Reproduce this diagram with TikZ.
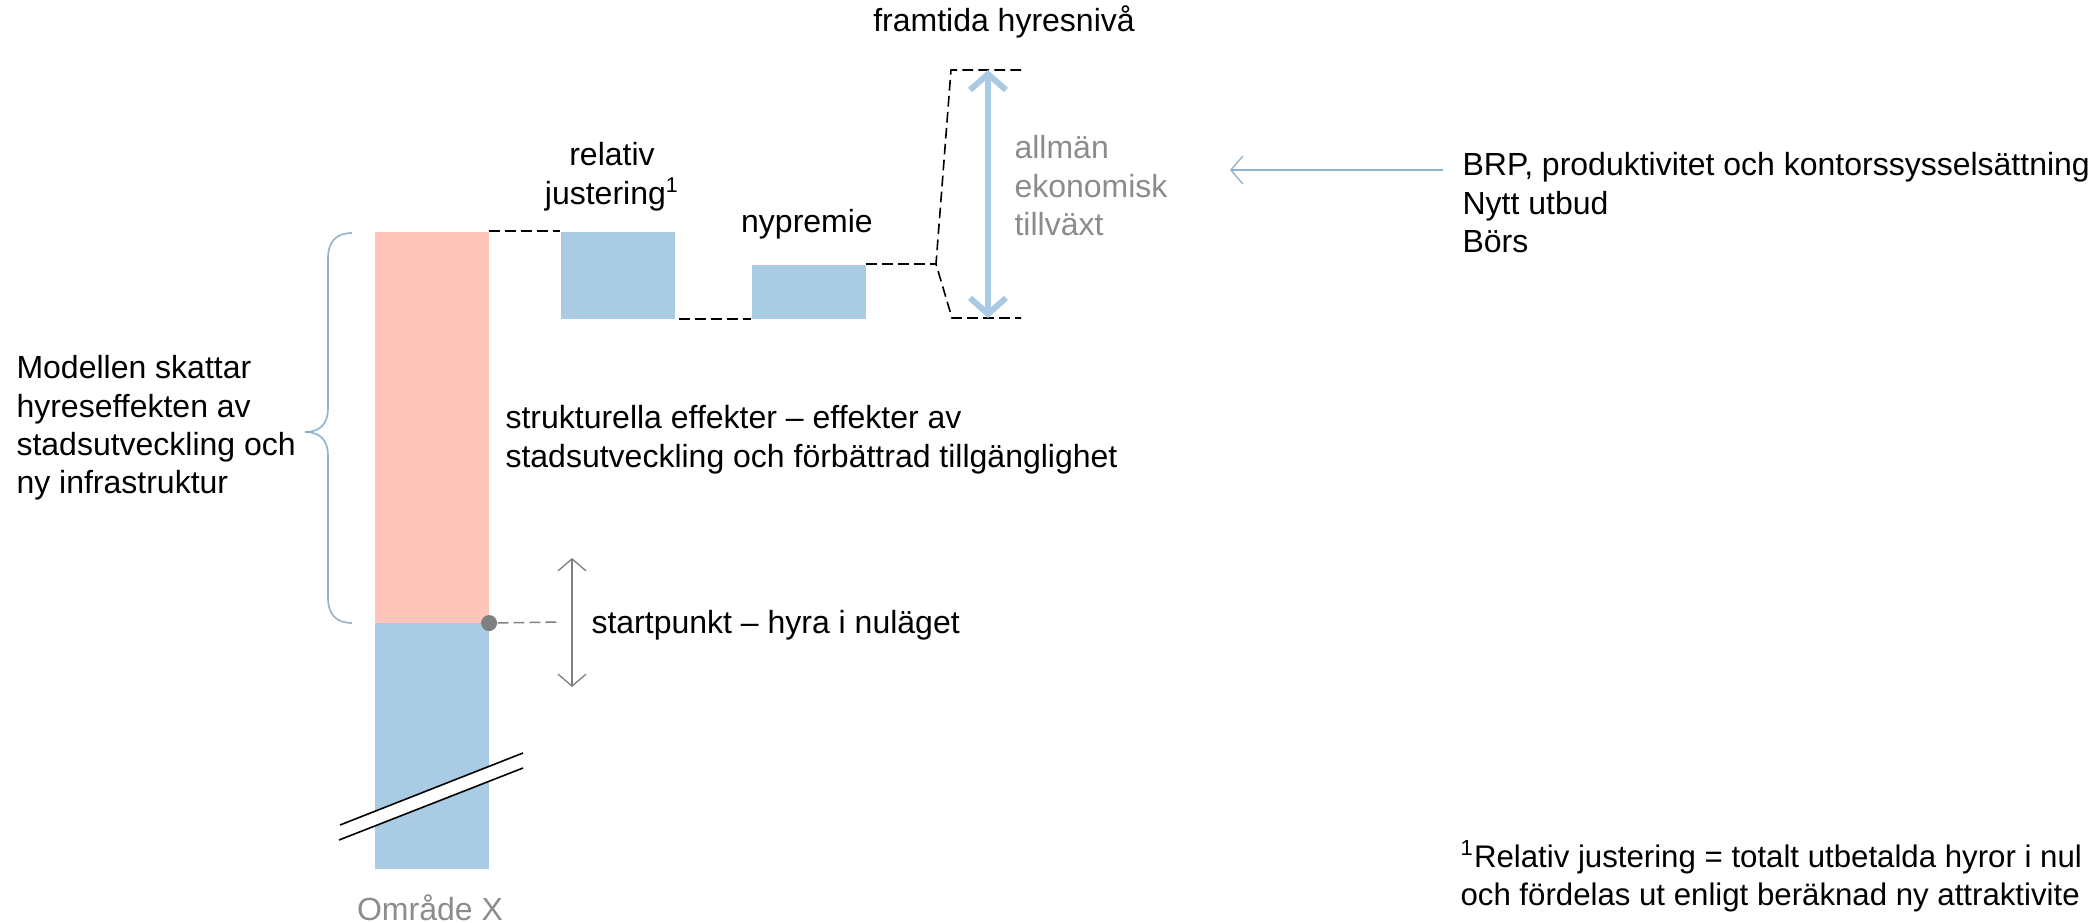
\documentclass[tikz,border=0pt]{standalone}
\usepackage{fontspec}
\setmainfont{Liberation Sans}
\usetikzlibrary{arrows.meta}
\definecolor{rentpink}{HTML}{FFC5BA}
\definecolor{rentblue}{HTML}{A9CCE4}
\definecolor{bracegray}{HTML}{8FB3CC}
\definecolor{softgray}{HTML}{8C8C8C}
\definecolor{midgray}{HTML}{808080}

\begin{document}
\begin{tikzpicture}[x=0.375pt, y=-0.375pt,
	txt/.style={inner sep=0pt, font=\fontsize{12}{14.4}\selectfont},
	bar/.style={inner sep=0pt, minimum width=42.75pt, anchor=north west},
	guide/.style={dash pattern=on 4pt off 2pt, line width=0.6pt},
	startarrow/.style={midgray, line width=0.5pt, {Straight Barb[length=4.5pt, width=10.5pt]}-{Straight Barb[length=4.5pt, width=10.5pt]}},
	growth/.style={rentblue, line width=2.25pt, line cap=round, {Straight Barb[length=6pt, width=13.5pt]}-{Straight Barb[length=6pt, width=13.5pt]}},
	feed/.style={bracegray, line width=0.5pt, -{Straight Barb[length=4.5pt, width=10.5pt]}}]
	\clip (0,0) rectangle (2096,923);

%bars
	\node[bar, fill=rentpink, minimum height=146.625pt] (struct) at (374,231) {};
	\node[bar, fill=rentblue, minimum height=92.25pt] (today) at (374,622) {};
	\node[bar, fill=rentblue, minimum height=32.625pt] (reladj) at (560,231) {};
	\node[bar, fill=rentblue, minimum height=20.25pt] (premium) at (751,264) {};

%axis break
	\fill[white] (340,825) -- (523,753) -- (523,768) -- (339,840) -- cycle;
	\draw[line width=0.6pt] (340,825) -- (523,753);
	\draw[line width=0.6pt] (339,840) -- (523,768);

%start point
	\node[circle, fill=midgray, inner sep=0pt, minimum size=6pt] (start) at (struct.south east) {};
	\coordinate (startend) at (560,622);
	\draw[guide, midgray] (start) -- (startend);
	\coordinate (spantop) at (572,558);
	\coordinate (spanbot) at (572,687);
	\draw[startarrow] (spantop) -- (spanbot);

%dashed steps
	\coordinate (kink) at (936,264);
	\coordinate (futtopL) at (951,70);
	\coordinate (futtopR) at (1021,70);
	\coordinate (futbotL) at (952,318);
	\coordinate (futbotR) at (1021,318);
	\draw[guide] (struct.north east) -- (reladj.north west);
	\draw[guide] ([xshift=1.5pt]reladj.south east) -- (premium.south west);
	\draw[guide] (premium.north east) -- (kink);
	\draw[guide] (futtopR) -- (futtopL) -- (kink) -- (futbotL) -- (futbotR);

%growth arrow
	\coordinate (gtop) at (988,70);
	\coordinate (gbot) at (988,318);
	\draw[growth] (gtop) -- (gbot);

%brace
	\draw[bracegray, line width=0.6pt] (352,233) .. controls (336,233) and (328,242) .. (328,258) -- (328,408)
		.. controls (328,424) and (320,432) .. (305,432) .. controls (320,432) and (328,440) .. (328,456)
		-- (328,598) .. controls (328,614) and (336,623) .. (352,623);

%labels
	\node[txt, anchor=base] (future) at (1004,32) {framtida hyresnivå};
	\node[txt, anchor=north, align=center] (reladjlabel) at (612,142) {relativ\\justering\textsuperscript{1}};
	\node[txt, anchor=base] (premiumlabel) at (807,233) {nypremie};
	\node[txt, anchor=north west, align=left, softgray] (growthlabel) at (1014,135) {allmän\\ekonomisk\\tillväxt};
	\node[txt, anchor=north west, align=left] (drivers) at (1462,152) {BRP, produktivitet och kontorssysselsättning\\Nytt utbud\\Börs};
	\node[txt, anchor=north west, align=left] (model) at (16,355) {Modellen skattar\\hyreseffekten av\\stadsutveckling och\\ny infrastruktur};
	\node[txt, anchor=north west, align=left] (structlabel) at (505,405) {strukturella effekter – effekter av\\stadsutveckling och förbättrad tillgänglighet};
	\node[txt, anchor=base west] (startlabel) at (591,633) {startpunkt – hyra i nuläget};
	\node[txt, anchor=base, softgray] (area) at (430,920) {Område X};
	\node[txt, anchor=north west, align=left, font=\fontsize{11.7}{14.4}\selectfont] (footnote) at (1460,840) {\textsuperscript{1}Relativ justering = totalt utbetalda hyror i nul\\och fördelas ut enligt beräknad ny attraktivite};

%feed arrow
	\coordinate (feedstart) at (1443,170);
	\coordinate (feedtip) at (1230,170);
	\draw[feed] (feedstart) -- (feedtip);
\end{tikzpicture}
\end{document}
